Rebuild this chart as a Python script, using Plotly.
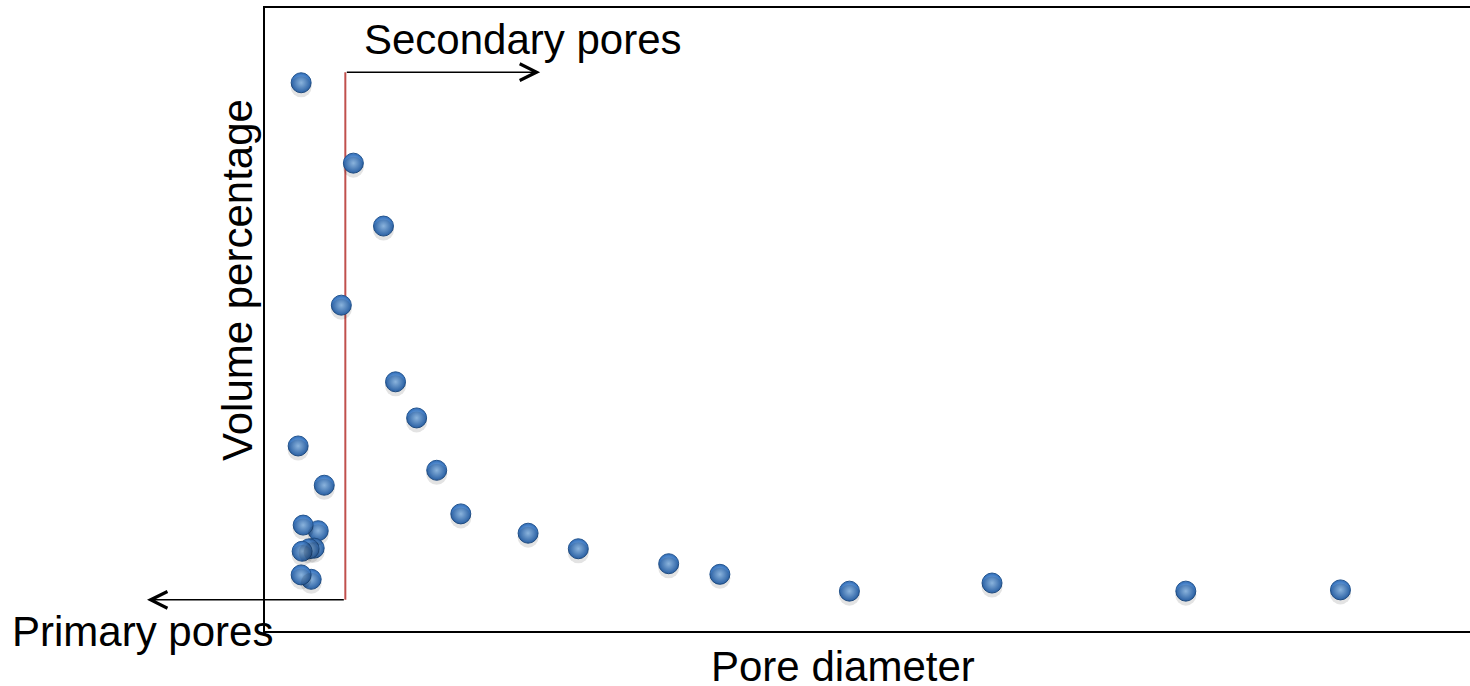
import plotly.graph_objects as go

# ---- data (arbitrary units) ----
main_x = [3.6, 8.8, 11.8, 7.6, 13.0, 15.1, 17.1, 19.5, 26.2, 31.2, 40.2, 45.3, 58.2, 72.4, 91.7, 107.1]
main_y = [88.0, 75.1, 65.0, 52.3, 40.0, 34.2, 25.8, 18.8, 15.7, 13.2, 10.8, 9.1, 6.4, 7.7, 6.4, 6.6]
cluster_x = [3.3, 5.9, 5.3, 3.8, 4.9, 4.4, 3.7, 4.6, 3.6]
cluster_y = [29.7, 23.4, 16.1, 17.0, 13.3, 13.2, 12.8, 8.3, 9.0]

x_all = main_x + cluster_x
y_all = main_y + cluster_y

X_RANGE = [0, 120]
Y_RANGE = [0, 100]
boundary_x = 8.0        # primary / secondary boundary
boundary_top = 89.7
boundary_bottom = 5.0
secondary_arrow_x = 27.4
primary_arrow_x = -11.75

W, H = 1470, 686
ML, MR, MT, MB = 265, 0, 8, 55
PW, PH = W - ML - MR, H - MT - MB

FONT = "Liberation Sans, Arial, sans-serif"


def px_x(px):
    return (px - ML) / PW


def px_y(py):
    return (H - MB - py) / PH


fig = go.Figure()

# soft drop shadow (same points, drawn on a slightly shifted overlay axis)
shift = 4 * (Y_RANGE[1] - Y_RANGE[0]) / PH
fig.add_trace(go.Scatter(
    x=x_all, y=y_all, mode="markers", yaxis="y2",
    marker=dict(size=21, color="rgba(0,0,0,0.11)", line=dict(width=0)),
    hoverinfo="skip", showlegend=False,
))

fig.add_trace(go.Scatter(
    x=x_all, y=y_all, mode="markers",
    marker=dict(size=20, color="#2f6cb8",
                gradient=dict(type="radial", color="#9ccaf8"),
                line=dict(width=1, color="#24558f")),
    showlegend=False,
))

# red boundary line
fig.add_shape(type="line", x0=boundary_x, x1=boundary_x, y0=boundary_bottom, y1=boundary_top,
              xref="x", yref="y", line=dict(color="#c0504d", width=2), layer="below")

# arrows
arrow_common = dict(showarrow=True, text="", arrowhead=5, arrowsize=2.2, arrowwidth=1.5,
                    arrowcolor="black", standoff=0, startstandoff=0,
                    xref="x", yref="y", axref="x", ayref="y")
fig.add_annotation(x=secondary_arrow_x, y=boundary_top, ax=boundary_x, ay=boundary_top, **arrow_common)
fig.add_annotation(x=primary_arrow_x, y=boundary_bottom, ax=boundary_x, ay=boundary_bottom, **arrow_common)

# texts
txt = dict(showarrow=False, xref="paper", yref="paper", borderpad=0,
           font=dict(family=FONT, size=42, color="black"))
fig.add_annotation(text="Secondary pores", x=px_x(363), y=px_y(40), xanchor="left", yanchor="middle", **txt)
fig.add_annotation(text="Primary pores", x=px_x(11), y=px_y(631), xanchor="left", yanchor="middle", **txt)
fig.add_annotation(text="Pore diameter", x=px_x(843), y=px_y(666), xanchor="center", yanchor="middle", **txt)
fig.add_annotation(text="Volume percentage", x=px_x(237), y=px_y(280), xanchor="center", yanchor="middle",
                   textangle=-90, **txt)

fig.update_layout(
    width=W, height=H,
    margin=dict(l=ML, r=MR, t=MT, b=MB),
    paper_bgcolor="white", plot_bgcolor="white",
    xaxis=dict(range=X_RANGE, showgrid=False, zeroline=False, showticklabels=False, ticks="",
               showline=True, linecolor="black", linewidth=2, mirror=True),
    yaxis=dict(range=Y_RANGE, showgrid=False, zeroline=False, showticklabels=False, ticks="",
               showline=True, linecolor="black", linewidth=2, mirror=False),
    yaxis2=dict(range=[Y_RANGE[0] + shift, Y_RANGE[1] + shift], overlaying="y", visible=False),
    showlegend=False,
)

fig.write_html("out.html", config={"displayModeBar": False},
               post_script="document.body.style.margin='0px';document.body.style.overflow='hidden';")
